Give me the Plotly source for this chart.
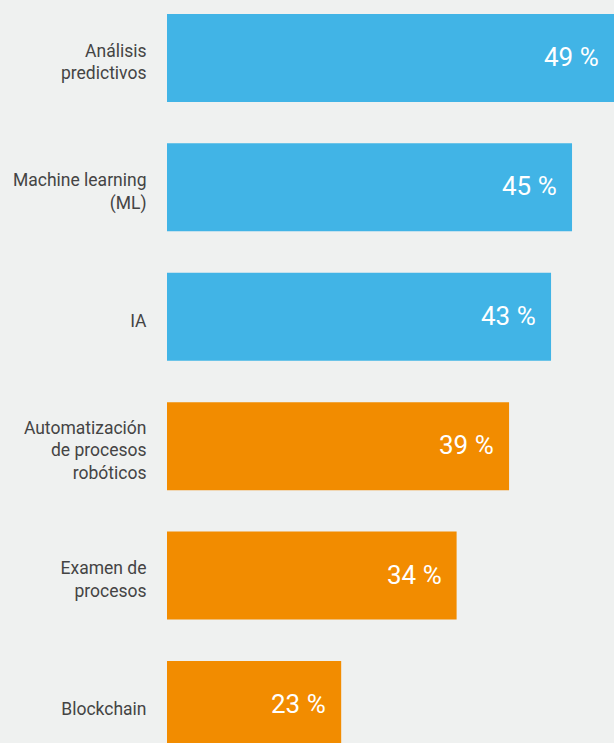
import plotly.graph_objects as go

categories = ["Análisis<br>predictivos", "Machine learning<br>(ML)", "IA",
              "Automatización<br>de procesos<br>robóticos", "Examen de<br>procesos", "Blockchain"]
values = [49, 45, 43, 39, 34, 23]
value_labels = ["49 %", "45 %", "43 %", "39 %", "34 %", "23 %"]
colors = ["#41b4e6", "#41b4e6", "#41b4e6", "#f28c00", "#f28c00", "#f28c00"]

fig = go.Figure()
fig.add_trace(go.Bar(
    x=values, y=categories, orientation="h",
    marker=dict(color=colors, line=dict(width=0)),
    width=0.68, hoverinfo="skip",
))
for c, v, t in zip(categories, values, value_labels):
    fig.add_annotation(x=v, y=c, text=t, showarrow=False, xanchor="right",
                       xshift=-13, yshift=1,
                       font=dict(family="Roboto", size=26, color="white"))

fig.update_layout(
    width=614, height=743,
    margin=dict(l=167, r=0, t=0, b=0),
    paper_bgcolor="#eff1f0", plot_bgcolor="#eff1f0",
    showlegend=False,
    xaxis=dict(range=[6.4, 49], visible=False, fixedrange=True),
    yaxis=dict(range=[5.294, -0.448], categoryorder="array", categoryarray=categories,
               showgrid=False, zeroline=False, showline=False,
               ticks="outside", ticklen=0, ticklabelstandoff=16, ticklabelshift=-4,
               tickfont=dict(family="Roboto", size=17.5, color="#444444")),
)
fig.write_html("out.html", config={"displayModeBar": False},
               post_script="document.body.style.margin='0';document.body.style.overflow='hidden';")
